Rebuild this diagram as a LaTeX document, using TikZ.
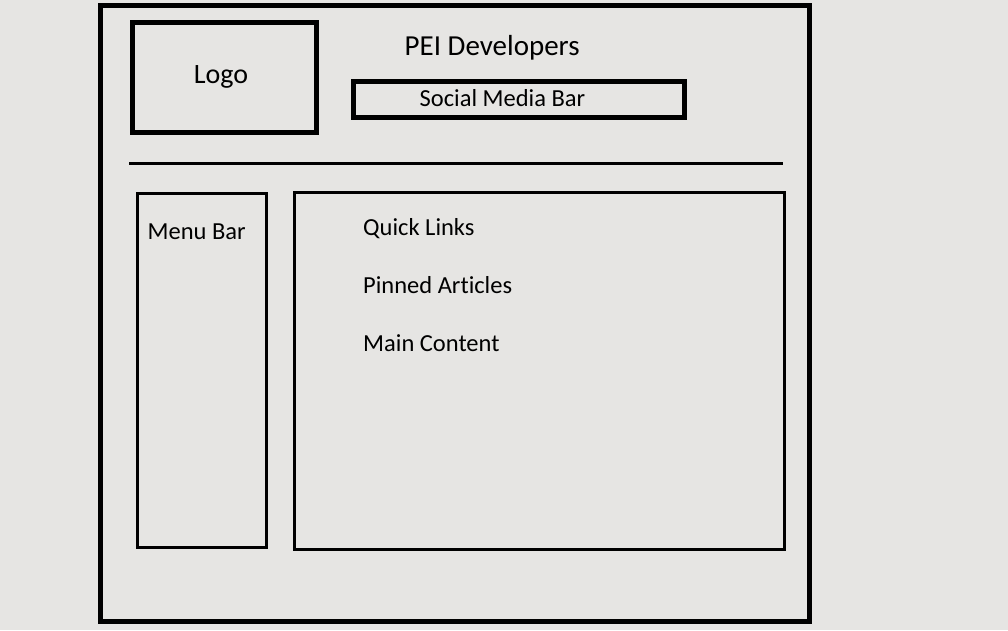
\documentclass[tikz,border=0pt]{standalone}
\usepackage{fontspec}
\setmainfont{Carlito}[Ligatures=NoCommon]
\definecolor{paper}{RGB}{230,229,227}
\begin{document}
\begin{tikzpicture}[x=1pt,y=-1pt,
  frame/.style={draw=black,line width=#1,rectangle,inner sep=0pt,fill=none},
  label/.style={inner sep=0pt,anchor=base west,text=black},
  big/.style={font=\fontsize{28}{34}\selectfont},
  title/.style={font=\fontsize{29}{35}\selectfont},
  small/.style={font=\fontsize{24.5}{29}\selectfont}]
  % page and background
  \fill[paper] (0,0) rectangle (1008,630);
  \useasboundingbox (0,0) rectangle (1008,630);

  % outer page frame
  \node[frame=4.6pt,minimum width=709pt,minimum height=616pt] (page) at (455,313.5) {};

  % header
  \node[frame=5pt,minimum width=184pt,minimum height=110pt] (logo) at (224.5,77.5) {};
  \node[big,inner sep=0pt,anchor=base] (logotext) at (221,83.5) {Logo};
  \node[title,label] (titletext) at (404.5,55) {PEI Developers};
  \node[frame=5pt,minimum width=331pt,minimum height=36pt] (social) at (519,99) {};
  \node[small,label] (socialtext) at (419.5,106) {Social Media Bar};

  % separator rule
  \coordinate (ruleL) at (129,163.5);
  \coordinate (ruleR) at (783,163.5);
  \draw[line width=3pt] (ruleL) -- (ruleR);

  % menu column
  \node[frame=3pt,minimum width=128.5pt,minimum height=354pt] (menu) at (201.75,370.5) {};
  \node[small,label] (menutext) at (147.5,239.5) {Menu Bar};

  % content area
  \node[frame=3pt,minimum width=490pt,minimum height=357pt] (content) at (539.5,371) {};
  \node[small,label] (quick) at (363,235) {Quick Links};
  \node[small,label] (pinned) at (363,293) {Pinned Articles};
  \node[small,label] (maincontent) at (363,351) {Main Content};
\end{tikzpicture}
\end{document}
